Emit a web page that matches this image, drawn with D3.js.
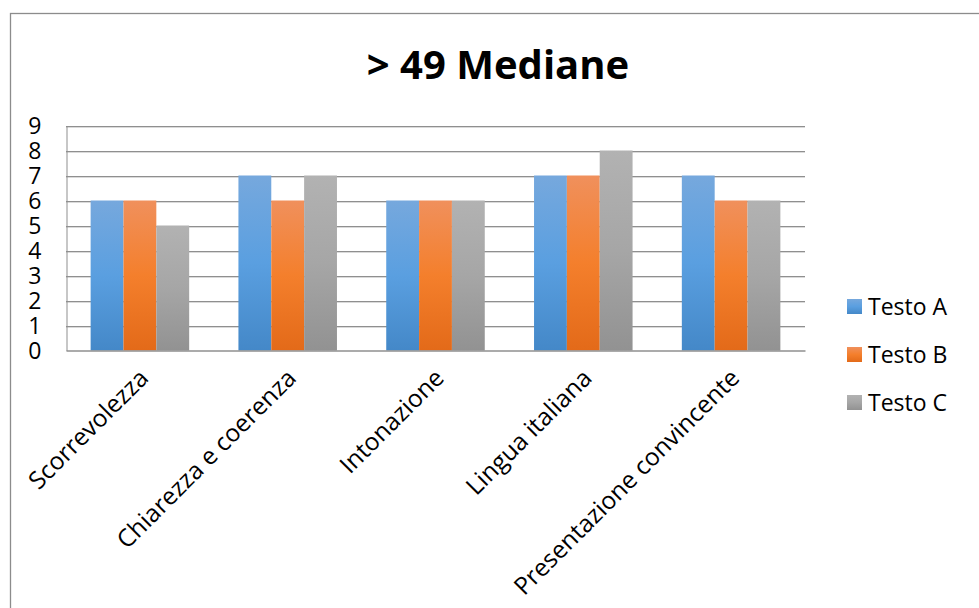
<!DOCTYPE html>
<html><head><meta charset="utf-8">
<script src="https://cdn.jsdelivr.net/npm/d3@7"></script>
<style>html,body{margin:0;padding:0;background:#fff;}svg{display:block;}</style>
</head><body>
<script>
const categories = ["Scorrevolezza","Chiarezza e coerenza","Intonazione","Lingua italiana","Presentazione convincente"];
const seriesNames = ["Testo A","Testo B","Testo C"];
const testoA = [6,7,6,7,7];
const testoB = [6,6,6,7,6];
const testoC = [5,7,6,8,6];
const yTicks = [0,1,2,3,4,5,6,7,8,9];
const title = "> 49 Mediane";

(function(){
const W = 979, H = 608;
const svg = d3.select("body").append("svg").attr("width",W).attr("height",H);
const font = "'Open Sans', sans-serif";

const gradStops = [
  [["0%","#76a8dd"],["50%","#5a9fe0"],["100%","#4488c8"]],
  [["0%","#f0905c"],["50%","#f47f2c"],["100%","#e36a19"]],
  [["0%","#b2b2b2"],["50%","#a6a6a6"],["100%","#929292"]]
];
const defs = svg.append("defs");
gradStops.forEach((stops,i)=>{
  const g = defs.append("linearGradient").attr("id","g"+i).attr("x1",0).attr("y1",0).attr("x2",0).attr("y2",1);
  stops.forEach(s=>g.append("stop").attr("offset",s[0]).attr("stop-color",s[1]));
});

svg.append("rect").attr("x",10.5).attr("y",13.5).attr("width",W).attr("height",H)
  .attr("fill","none").attr("stroke","#8c8c8c").attr("stroke-width",1.3);

svg.append("text").attr("x",498).attr("y",79).attr("text-anchor","middle")
  .attr("font-family",font).attr("font-weight",700).attr("font-size",40).attr("fill","#000").text(title);

const pl = 66, pr = 805, pt = 125.5, pb = 350.5;
const x0 = d3.scaleBand().domain(categories).range([pl,pr]).paddingInner(0).paddingOuter(0);
const y = d3.scaleLinear().domain([0,9]).range([pb,pt]);
const inner = 3/4.5;
const x1 = d3.scaleBand().domain(seriesNames).range([0,x0.bandwidth()*inner]);
const offset = (x0.bandwidth()*(1-inner))/2;

const grid = svg.append("g");
yTicks.filter(t=>t>0).forEach(t=>{
  grid.append("line").attr("x1",pl).attr("x2",pr).attr("y1",Math.round(y(t))+1.5).attr("y2",Math.round(y(t))+1.5).attr("stroke","#dadada").attr("stroke-width",1);
  grid.append("line").attr("x1",pl).attr("x2",pr).attr("y1",Math.round(y(t))+0.5).attr("y2",Math.round(y(t))+0.5).attr("stroke","#8f8f8f").attr("stroke-width",1);
});
const yAxis = d3.axisLeft(y).tickValues(yTicks).tickSize(0).tickPadding(25);
const ya = svg.append("g").attr("transform",`translate(${pl+0.5},0)`).call(yAxis);
ya.select(".domain").attr("stroke","#8f8f8f");
ya.selectAll("text").attr("font-family",font).attr("font-size",23).attr("fill","#000").attr("dy","0.36em");

const data = [testoA,testoB,testoC];
const bars = svg.append("g");
categories.forEach((c,ci)=>{
  seriesNames.forEach((s,si)=>{
    const v = data[si][ci];
    bars.append("rect").attr("x",x0(c)+offset+x1(s)).attr("width",x1.bandwidth())
      .attr("y",y(v)).attr("height",y(0)-y(v)).attr("fill",`url(#g${si})`);
  });
});

const xAxis = d3.axisBottom(x0).tickSize(0).tickPadding(0);
const xa = svg.append("g").attr("transform",`translate(0,${pb})`).call(xAxis);
xa.select(".domain").attr("stroke","#8f8f8f").attr("stroke-width",1.3);
xa.selectAll("text").attr("font-family",font).attr("font-size",24.5).attr("fill","#000")
  .attr("text-anchor","end").attr("dy",0).attr("y",0)
  .attr("transform","translate(10,29) rotate(-45)");

const lg = svg.append("g");
seriesNames.forEach((s,i)=>{
  const cy = 306.5 + i*48;
  lg.append("rect").attr("x",847).attr("y",cy-7.5).attr("width",15).attr("height",15).attr("fill",`url(#g${i})`);
  lg.append("text").attr("x",868).attr("y",cy).attr("dy","0.36em").attr("font-family",font).attr("font-size",23).attr("fill","#000").text(s);
});
})();
</script>
</body></html>
